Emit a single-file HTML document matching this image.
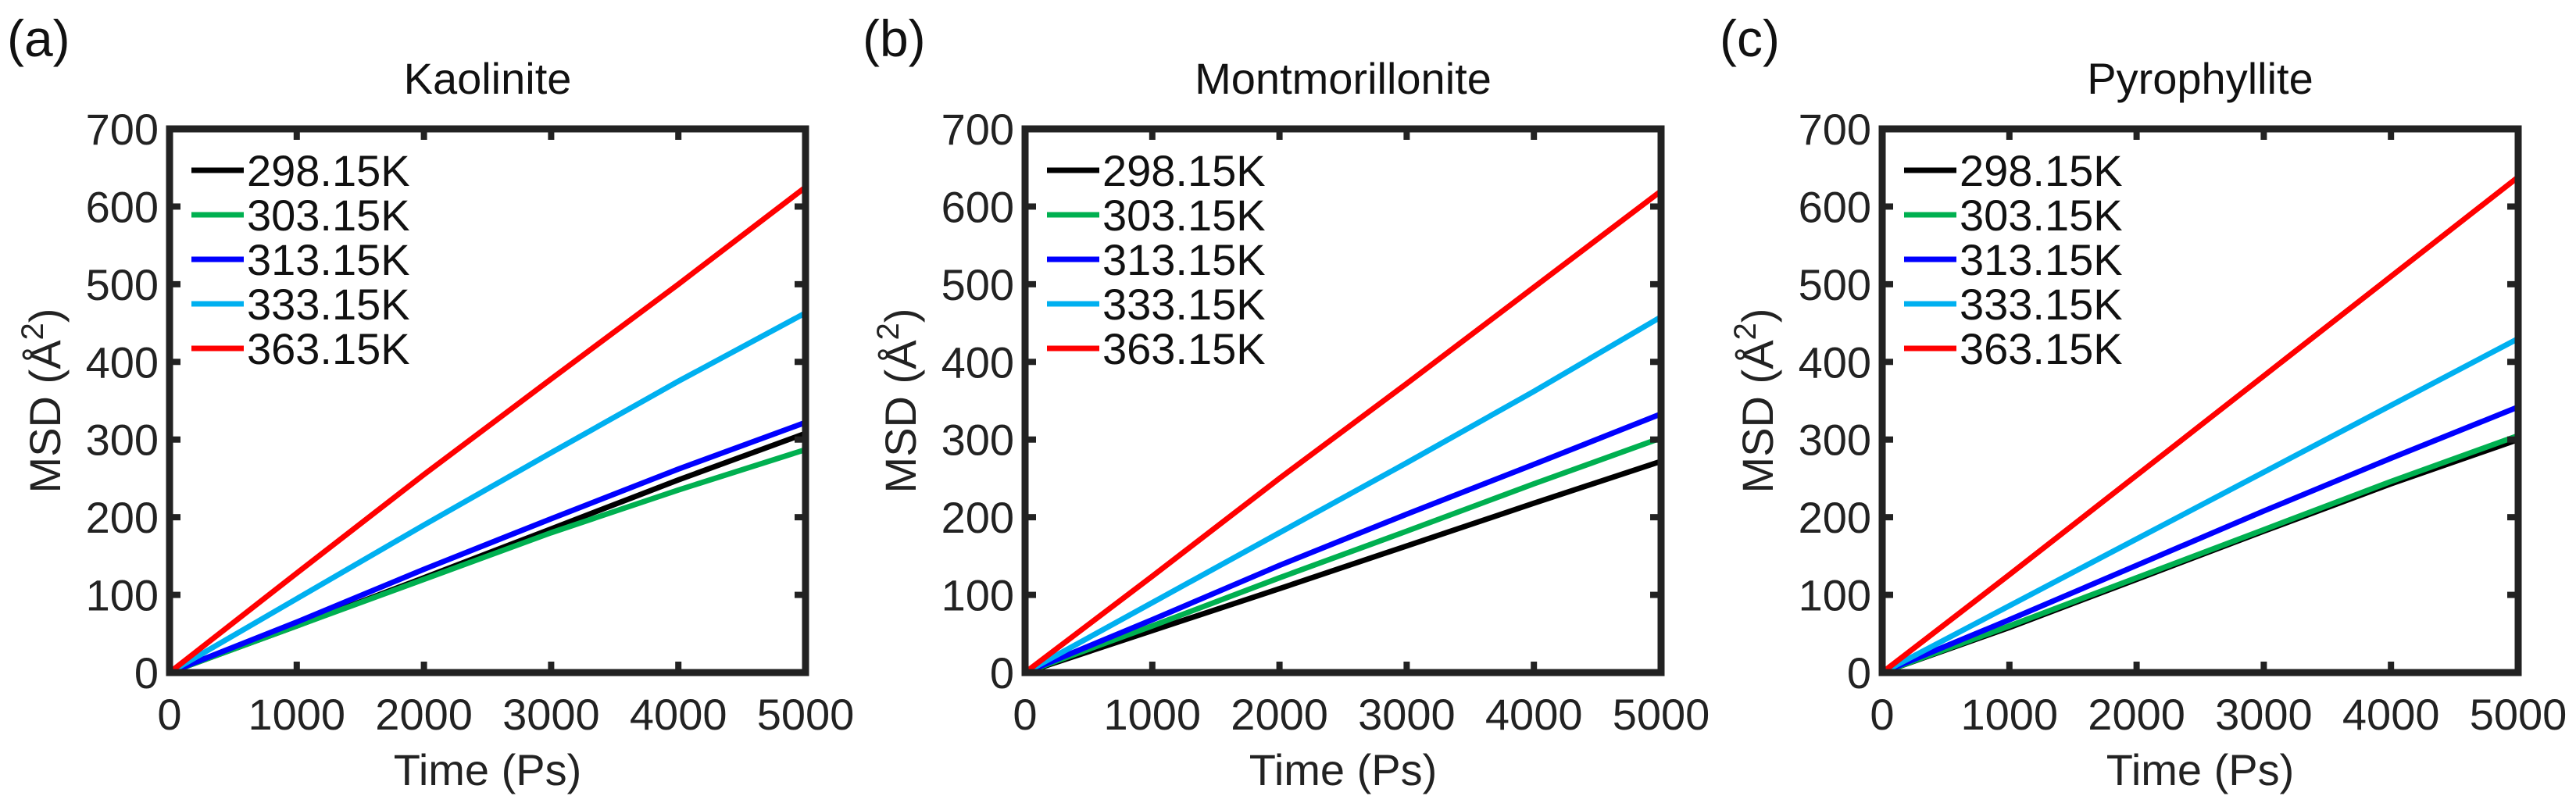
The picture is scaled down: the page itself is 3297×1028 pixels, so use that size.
<!DOCTYPE html>
<html><head><meta charset="utf-8"><style>
html,body{margin:0;padding:0;background:#fff;}
svg{display:block;font-family:"Liberation Sans",Arial,sans-serif;}
</style></head><body>
<svg id="fig" width="3297" height="1028" viewBox="0 0 3297 1028"></svg>
<script>
const xTicks=[0,1000,2000,3000,4000,5000];
const yTicks=[0,100,200,300,400,500,600,700];
const times=[0,1000,2000,3000,4000,5000];
const seriesNames=["298.15K","303.15K","313.15K","333.15K","363.15K"];
const seriesColors=["#000000","#00b050","#0000ff","#00b0f0","#ff0000"];
const panelTitles=["Kaolinite","Montmorillonite","Pyrophyllite"];
const panelLetters=["(a)","(b)","(c)"];
const kaoBlack=[0,60,122,185,248,308];
const kaoGreen=[0,60,120,180,235,287];
const kaoBlue=[0,65,133,198,262,322];
const kaoCyan=[0,95,190,283,375,463];
const kaoRed=[0,128,255,378,500,625];
const monBlack=[0,54,108,163,218,272];
const monGreen=[0,60,122,182,243,302];
const monBlue=[0,68,138,204,268,333];
const monCyan=[0,90,180,270,362,458];
const monRed=[0,124,250,372,496,620];
const pyrBlack=[0,58,120,182,243,300];
const pyrGreen=[0,60,122,184,246,305];
const pyrBlue=[0,68,138,208,276,342];
const pyrCyan=[0,86,172,258,344,430];
const pyrRed=[0,126,254,382,510,638];
const panelData=[[kaoBlack,kaoGreen,kaoBlue,kaoCyan,kaoRed],[monBlack,monGreen,monBlue,monCyan,monRed],[pyrBlack,pyrGreen,pyrBlue,pyrCyan,pyrRed]];
const panelLeft=[217,1312,2409];
const NS="http://www.w3.org/2000/svg";
const svg=document.getElementById('fig');
function mk(tag,attrs,parent){const e=document.createElementNS(NS,tag);for(const k in attrs)e.setAttribute(k,attrs[k]);(parent||svg).appendChild(e);return e;}
panelData.forEach((series,p)=>{
  const L=panelLeft[p],R=L+814,T=165,B=861;
  const g=mk('g',{});
  
  
  const xs=v=>L+(v-0)/5000*(R-L);
  const ys=v=>B-(v/700)*(B-T);
  const lt=mk('text',{x:L-208,y:72,'font-size':66,fill:'#111'},g);lt.textContent=panelLetters[p];
  
  
  const tt=mk('text',{x:(L+R)/2,y:120,'font-size':56,'text-anchor':'middle',fill:'#111'},g);tt.textContent=panelTitles[p];
  
  
  series.forEach((vals,s)=>{
    const pts=vals.map((v,i)=>xs(times[i]).toFixed(1)+','+ys(v).toFixed(1)).join(' ');
    const pl=mk('polyline',{points:pts,fill:'none',stroke:seriesColors[s],'stroke-width':7,'stroke-linejoin':'round'},g);
    
    
  });
  xTicks.forEach(v=>{
    const x=xs(v);
    mk('line',{x1:x,y1:B,x2:x,y2:B-14,stroke:'#222','stroke-width':8},g);
    mk('line',{x1:x,y1:T,x2:x,y2:T+14,stroke:'#222','stroke-width':8},g);
    const t=mk('text',{x:x,y:934,'font-size':56,'text-anchor':'middle',fill:'#222'},g);t.textContent=v;
    
    
  });
  yTicks.forEach(v=>{
    const y=ys(v);
    mk('line',{x1:L,y1:y,x2:L+14,y2:y,stroke:'#222','stroke-width':8},g);
    mk('line',{x1:R,y1:y,x2:R-14,y2:y,stroke:'#222','stroke-width':8},g);
    const t=mk('text',{x:L-14,y:y+20,'font-size':56,'text-anchor':'end',fill:'#222'},g);t.textContent=v;
    
    
  });
  const fr=mk('rect',{x:L,y:T,width:R-L,height:B-T,fill:'none',stroke:'#222','stroke-width':9},g);
  
  
  const xl=mk('text',{x:(L+R)/2,y:1005,'font-size':56,'text-anchor':'middle',fill:'#222'},g);xl.textContent='Time (Ps)';
  
  
  const yl=mk('text',{x:0,y:0,'font-size':56,'text-anchor':'middle',fill:'#222',transform:'translate('+(L-140)+','+(B+T)/2+') rotate(-90)'},g);
  yl.innerHTML='MSD (Å<tspan dy="-22" font-size="40">2</tspan><tspan dy="22">)</tspan>';
  
  
  seriesNames.forEach((n,s)=>{
    const y=218+s*57;
    const lg=mk('g',{},g);
    
    
    mk('line',{x1:L+28,y1:y,x2:L+95,y2:y,stroke:seriesColors[s],'stroke-width':7},lg);
    const t=mk('text',{x:L+99,y:y+20,'font-size':56,fill:'#111'},lg);t.textContent=n;
  });
});
</script>
</body></html>
